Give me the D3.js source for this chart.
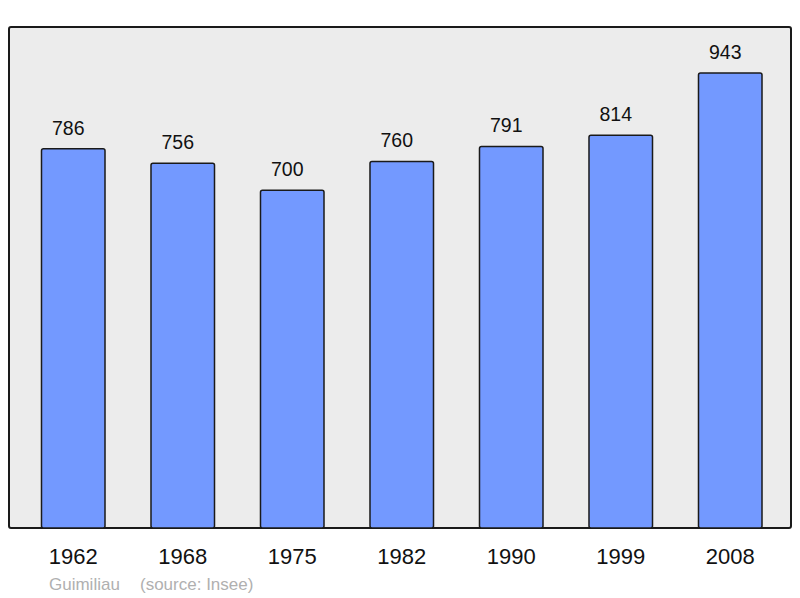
<!DOCTYPE html>
<html><head><meta charset="utf-8">
<script src="https://cdn.jsdelivr.net/npm/d3@7"></script>
<style>body{margin:0;background:#fff}svg{display:block}text{font-family:"Liberation Sans",Arial,sans-serif}</style>
</head><body>
<svg id="c" width="800" height="598"></svg>
<script>
const years = ["1962","1968","1975","1982","1990","1999","2008"];
const population = [786,756,700,760,791,814,943];
const title = "Guimiliau";
const source = "(source: Insee)";

const svg = d3.select("#c");
svg.append("rect").attr("x",9).attr("y",27).attr("width",782).attr("height",501)
  .attr("rx",2).attr("fill","#ececec").attr("stroke","#1a1a1a").attr("stroke-width",2);

const x = d3.scaleBand().domain(years).range([18.5,785]).paddingInner(0.42).paddingOuter(0.21);
const y = d3.scaleLinear().domain([0,1038.6]).range([528,27]);

const g = svg.append("g");
g.selectAll("rect.bar").data(years).join("rect").attr("class","bar")
  .attr("x",d=>x(d)).attr("width",x.bandwidth())
  .attr("y",(d,i)=>y(population[i])).attr("height",(d,i)=>y(0)-y(population[i]))
  .attr("rx",2).attr("fill","#7399ff").attr("stroke","#1a1a1a").attr("stroke-width",1.5);

g.selectAll("text.val").data(years).join("text").attr("class","val")
  .attr("x",d=>x(d)+x.bandwidth()/2-5).attr("y",(d,i)=>y(population[i])-14)
  .attr("text-anchor","middle").attr("font-size",19.5).attr("fill","#111")
  .text((d,i)=>population[i]);

const ax = svg.append("g").attr("transform","translate(0,528)")
  .call(d3.axisBottom(x).tickSize(0).tickPadding(0));
ax.select(".domain").remove();
ax.selectAll("text").attr("y",36).attr("dy",0).attr("font-size",22).attr("fill","#111")
  .style("font-family",'"Liberation Sans",Arial,sans-serif');

svg.append("text").attr("x",49).attr("y",590).attr("font-size",17).attr("fill","#b0b0b0").text(title);
svg.append("text").attr("x",140).attr("y",590).attr("font-size",17).attr("fill","#b0b0b0").text(source);
</script>
</body></html>
